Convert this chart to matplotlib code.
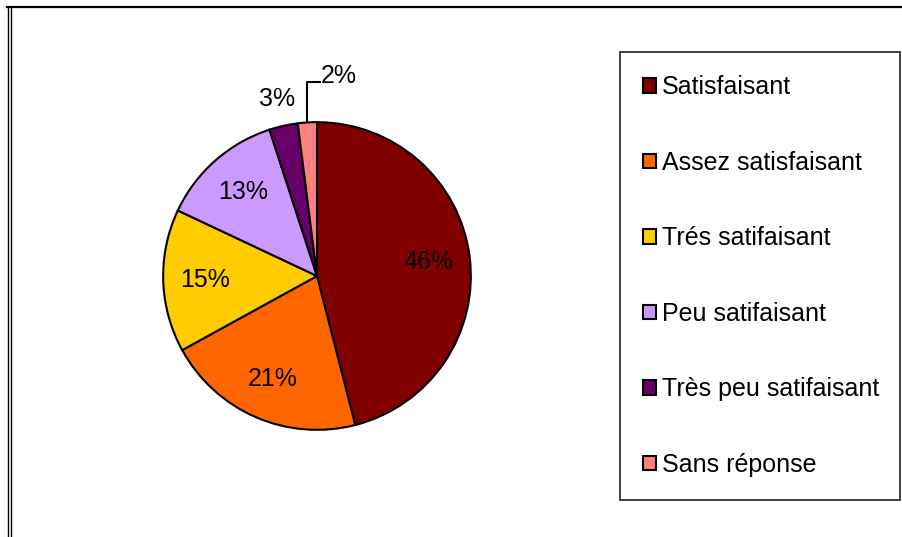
import numpy as np
import matplotlib
matplotlib.use('Agg')
import matplotlib.pyplot as plt
from matplotlib.lines import Line2D

categories = ['Satisfaisant', 'Assez satisfaisant', 'Trés satifaisant',
              'Peu satifaisant', 'Très peu satifaisant', 'Sans réponse']
values = [46, 21, 15, 13, 3, 2]
colors = ['#800000', '#FF6600', '#FFCC00', '#CC99FF', '#660066', '#FF8080']

plt.rcParams['font.family'] = ['Liberation Sans', 'DejaVu Sans']
FS = 18.0

W, H = 903, 537
fig = plt.figure(figsize=(W / 100, H / 100), dpi=100)

# outer frame: top line + double line on the left
fig.add_artist(Line2D([7 / W, 1.0], [1 - 6.5 / H, 1 - 6.5 / H],
                      transform=fig.transFigure, color='black', lw=1.6))
for xp in (7.5, 11.5):
    fig.add_artist(Line2D([xp / W, xp / W], [0, 1 - 6.5 / H],
                          transform=fig.transFigure, color='black', lw=1.0))

# pie axes: centre (317, 276) px, radius ~154 px
cx, cy, half = 317, 276, 200
ax = fig.add_axes([(cx - half) / W, (H - cy - half) / H, 2 * half / W, 2 * half / H])

wedges, texts, autotexts = ax.pie(
    values, colors=colors, startangle=90, counterclock=False,
    autopct='%d%%', pctdistance=0.73,
    wedgeprops=dict(edgecolor='black', linewidth=1.5),
    textprops=dict(fontsize=FS, color='black'))
ax.set_xlim(-1.3, 1.3)
ax.set_ylim(-1.3, 1.3)
ax.set_aspect('equal')
ax.axis('off')

# small slices: labels outside
w3, w2 = wedges[4], wedges[5]
a3 = np.deg2rad((w3.theta1 + w3.theta2) / 2)
autotexts[4].set_position((1.18 * np.cos(a3), 1.18 * np.sin(a3)))
a2 = np.deg2rad((w2.theta1 + w2.theta2) / 2)
x0, y0 = np.cos(a2), np.sin(a2)
ax.plot([x0, x0, x0 + 0.08], [y0, 1.26, 1.26], color='black', lw=1.5,
        clip_on=False)
autotexts[5].set_position((x0 + 0.09, 1.30))
autotexts[5].set_ha('left')

leg = fig.legend(wedges, categories, loc='upper left',
                 bbox_to_anchor=(620 / W, 1 - 52 / H, 280 / W, 0),
                 mode='expand', fontsize=FS, frameon=True, fancybox=False,
                 edgecolor='black', borderpad=0.93, labelspacing=2.06,
                 handlelength=0.52, handleheight=0.52, handletextpad=0.22,
                 borderaxespad=0)
leg.get_frame().set_linewidth(1.3)
for h in leg.legend_handles:
    h.set_edgecolor('black')
    h.set_linewidth(1.5)

fig.savefig('out.png', dpi=100)
